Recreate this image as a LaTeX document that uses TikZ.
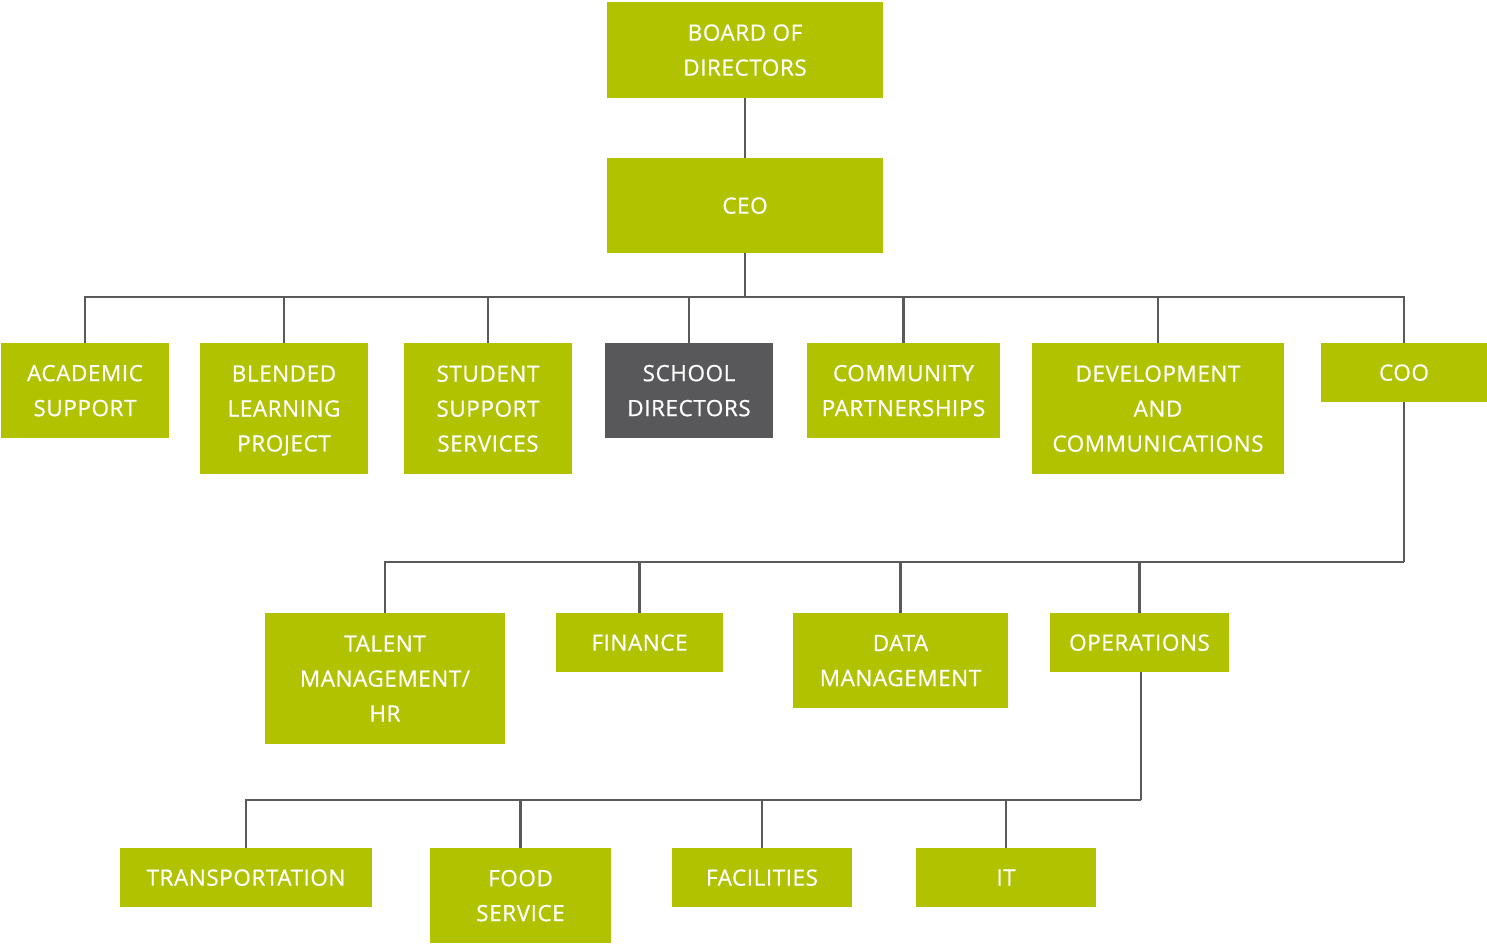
\documentclass[tikz,border=0pt]{standalone}
\usepackage{fontspec}
\setmainfont{Open Sans}[LetterSpace=2.5,FakeBold=0.7]
\usepackage{tikz}
\definecolor{leaf}{HTML}{B0C200}
\definecolor{slate}{HTML}{58585A}
\definecolor{wire}{HTML}{5A5A5A}

\begin{document}
\begin{tikzpicture}[x=0.02cm,y=-0.02cm,
	unit/.style={fill=leaf,text=white,align=center,inner sep=0pt,
		font=\fontsize{12.8}{19.9}\selectfont,text depth=#1},
	unit/.default=-3.5pt,
	link/.style={draw=wire,line width=1.6pt}]
			\useasboundingbox (0,0) rectangle (1487,945);
			
			% draw top boxes
			\node[unit,minimum width=5.52cm,minimum height=1.92cm] (board) at (745,50) {BOARD OF\\DIRECTORS};
			\node[unit=0pt,minimum width=5.52cm,minimum height=1.9cm] (ceo) at (745,205.5) {CEO};
			
			% draw first row
			\node[unit,minimum width=3.36cm,minimum height=1.9cm] (acad) at (85,390.5) {ACADEMIC\\SUPPORT};
			\node[unit=-6pt,minimum width=3.36cm,minimum height=2.62cm] (blend) at (284,408.5) {BLENDED\\LEARNING\\PROJECT};
			\node[unit=-6pt,minimum width=3.36cm,minimum height=2.62cm] (student) at (488,408.5) {STUDENT\\SUPPORT\\SERVICES};
			\node[unit,fill=slate,minimum width=3.36cm,minimum height=1.9cm] (school) at (689,390.5) {SCHOOL\\DIRECTORS};
			\node[unit,minimum width=3.86cm,minimum height=1.9cm] (community) at (903.5,390.5) {COMMUNITY\\PARTNERSHIPS};
			\node[unit=-6pt,minimum width=5.04cm,minimum height=2.62cm] (devel) at (1158,408.5) {DEVELOPMENT\\AND\\COMMUNICATIONS};
			\node[unit=-5pt,minimum width=3.32cm,minimum height=1.18cm] (coo) at (1404,372.5) {COO};
			
			% draw second row
			\node[unit=-6pt,minimum width=4.8cm,minimum height=2.62cm] (talent) at (385,678.5) {TALENT\\MANAGEMENT/\\HR};
			\node[unit=-5pt,minimum width=3.34cm,minimum height=1.18cm] (finance) at (639.5,642.5) {FINANCE};
			\node[unit,minimum width=4.3cm,minimum height=1.9cm] (data) at (900.5,660.5) {DATA\\MANAGEMENT};
			\node[unit=-5pt,minimum width=3.58cm,minimum height=1.18cm] (ops) at (1139.5,642.5) {OPERATIONS};
			
			% draw third row
			\node[unit=-5pt,minimum width=5.04cm,minimum height=1.18cm] (transport) at (246,877.5) {TRANSPORTATION};
			\node[unit,minimum width=3.62cm,minimum height=1.9cm] (food) at (520.5,895.5) {FOOD\\SERVICE};
			\node[unit=-5pt,minimum width=3.6cm,minimum height=1.18cm] (facil) at (762,877.5) {FACILITIES};
			\node[unit=-5pt,minimum width=3.6cm,minimum height=1.18cm] (it) at (1006,877.5) {IT};
			
			% bus points
			\coordinate (busA) at (745,297);
			\coordinate (busB) at (1404,562);
			\coordinate (busC) at (1141,800);
			
			% draw lines
			\draw[link] (board.south) -- (ceo.north);
			\draw[link] (ceo.south) -- (busA);
			\draw[link] (acad.north) |- (busA);
			\draw[link] (blend.north) |- (busA);
			\draw[link] (student.north) |- (busA);
			\draw[link] (school.north) |- (busA);
			\draw[link] (community.north) |- (busA);
			\draw[link] (devel.north) |- (busA);
			\draw[link] (coo.north) |- (busA);
			
			\draw[link] (coo.south) -- (busB);
			\draw[link] (talent.north) |- (busB);
			\draw[link] (finance.north) |- (busB);
			\draw[link] (data.north) |- (busB);
			\draw[link] (ops.north) |- (busB);
			
			\draw[link] (ops.south -| busC) -- (busC);
			\draw[link] (transport.north) |- (busC);
			\draw[link] (food.north) |- (busC);
			\draw[link] (facil.north) |- (busC);
			\draw[link] (it.north) |- (busC);
			
		\end{tikzpicture}
\end{document}
